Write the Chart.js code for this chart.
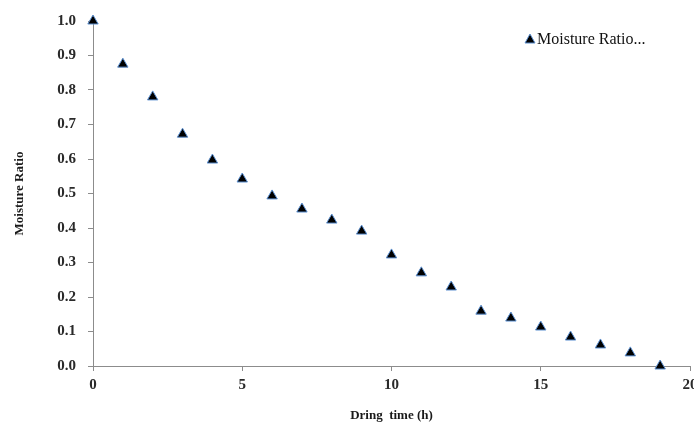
<!DOCTYPE html>
<html>
<head>
<meta charset="utf-8">
<script src="https://cdn.jsdelivr.net/npm/chart.js@4"></script>
<style>
    html, body { margin: 0; padding: 0; background: #fff; overflow: hidden; }
    #wrap { position: relative; width: 710px; height: 428px; }
</style>
</head>
<body>
<div id="wrap"><canvas id="dryingChart"></canvas></div>
<script>
// --- drying curve data ---
const hours = [0, 1, 2, 3, 4, 5, 6, 7, 8, 9, 10, 11, 12, 13, 14, 15, 16, 17, 18, 19];
const moisture = [1.0, 0.875, 0.78, 0.672, 0.597, 0.542, 0.493, 0.455, 0.423, 0.391,
                  0.322, 0.270, 0.229, 0.159, 0.139, 0.113, 0.084, 0.061, 0.038, 0.0];
const xTicks = [0, 5, 10, 15, 20];
const yTicks = [0, 0.1, 0.2, 0.3, 0.4, 0.5, 0.6, 0.7, 0.8, 0.9, 1.0];
const seriesLabel = 'Moisture Ratio...';

const serif = "'Liberation Serif', 'Times New Roman', serif";
const axisGrey = '#8c8c8c';
const markerFill = '#000000';
const markerEdge = '#5b8fd0';

document.addEventListener('DOMContentLoaded', () => {
    const ctx = document.getElementById('dryingChart').getContext('2d');

    // small legend in the top right corner of the plot
    const cornerLegend = {
        id: 'cornerLegend',
        afterDraw: (chart) => {
            const c = chart.ctx;
            const x = 530, y = 39;
            c.save();
            c.beginPath();
            c.moveTo(x, y - 5);
            c.lineTo(x + 5, y + 4);
            c.lineTo(x - 5, y + 4);
            c.closePath();
            c.fillStyle = markerFill;
            c.fill();
            c.lineWidth = 1;
            c.strokeStyle = markerEdge;
            c.stroke();
            c.font = '16px ' + serif;
            c.fillStyle = '#111';
            c.textBaseline = 'middle';
            c.textAlign = 'left';
            c.fillText(seriesLabel, 537, y + 1);
            c.restore();
        }
    };

    new Chart(ctx, {
        type: 'scatter',
        data: {
            datasets: [{
                label: seriesLabel,
                data: hours.map((h, i) => ({ x: h, y: moisture[i] })),
                clip: false,
                pointStyle: 'triangle',
                pointRadius: 6,
                pointHoverRadius: 6,
                backgroundColor: markerFill,
                borderColor: markerEdge,
                borderWidth: 1
            }]
        },
        options: {
            responsive: true,
            maintainAspectRatio: false,
            animation: false,
            layout: { padding: { left: 0, right: 20, top: 21, bottom: 0 } },
            plugins: {
                legend: { display: false },
                tooltip: { enabled: false }
            },
            scales: {
                x: {
                    type: 'linear',
                    min: 0,
                    max: 20,
                    afterBuildTicks: (scale) => { scale.ticks = xTicks.map(v => ({ value: v })); },
                    afterFit: (scale) => { scale.height = 62; },
                    border: { color: axisGrey, width: 1 },
                    grid: { drawOnChartArea: false, color: axisGrey, tickLength: 5 },
                    ticks: {
                        color: '#2a2a2a',
                        padding: 5,
                        maxRotation: 0,
                        font: { family: serif, size: 15, weight: 'bold' }
                    },
                    title: {
                        display: true,
                        text: 'Dring  time (h)',
                        color: '#1a1a1a',
                        font: { family: serif, size: 13, weight: 'bold' },
                        padding: { top: 4, bottom: 5 }
                    }
                },
                y: {
                    min: 0,
                    max: 1,
                    afterBuildTicks: (scale) => { scale.ticks = yTicks.map(v => ({ value: v })); },
                    afterFit: (scale) => { scale.width = 93; },
                    border: { color: axisGrey, width: 1 },
                    grid: { drawOnChartArea: false, color: axisGrey, tickLength: 5 },
                    ticks: {
                        color: '#2a2a2a',
                        padding: 12,
                        font: { family: serif, size: 15, weight: 'bold' },
                        callback: (v) => Number(v).toFixed(1)
                    },
                    title: {
                        display: true,
                        text: 'Moisture Ratio',
                        color: '#1a1a1a',
                        font: { family: serif, size: 13, weight: 'bold' },
                        padding: { top: 12, bottom: 6 }
                    }
                }
            }
        },
        plugins: [cornerLegend]
    });
});
</script>
</body>
</html>
